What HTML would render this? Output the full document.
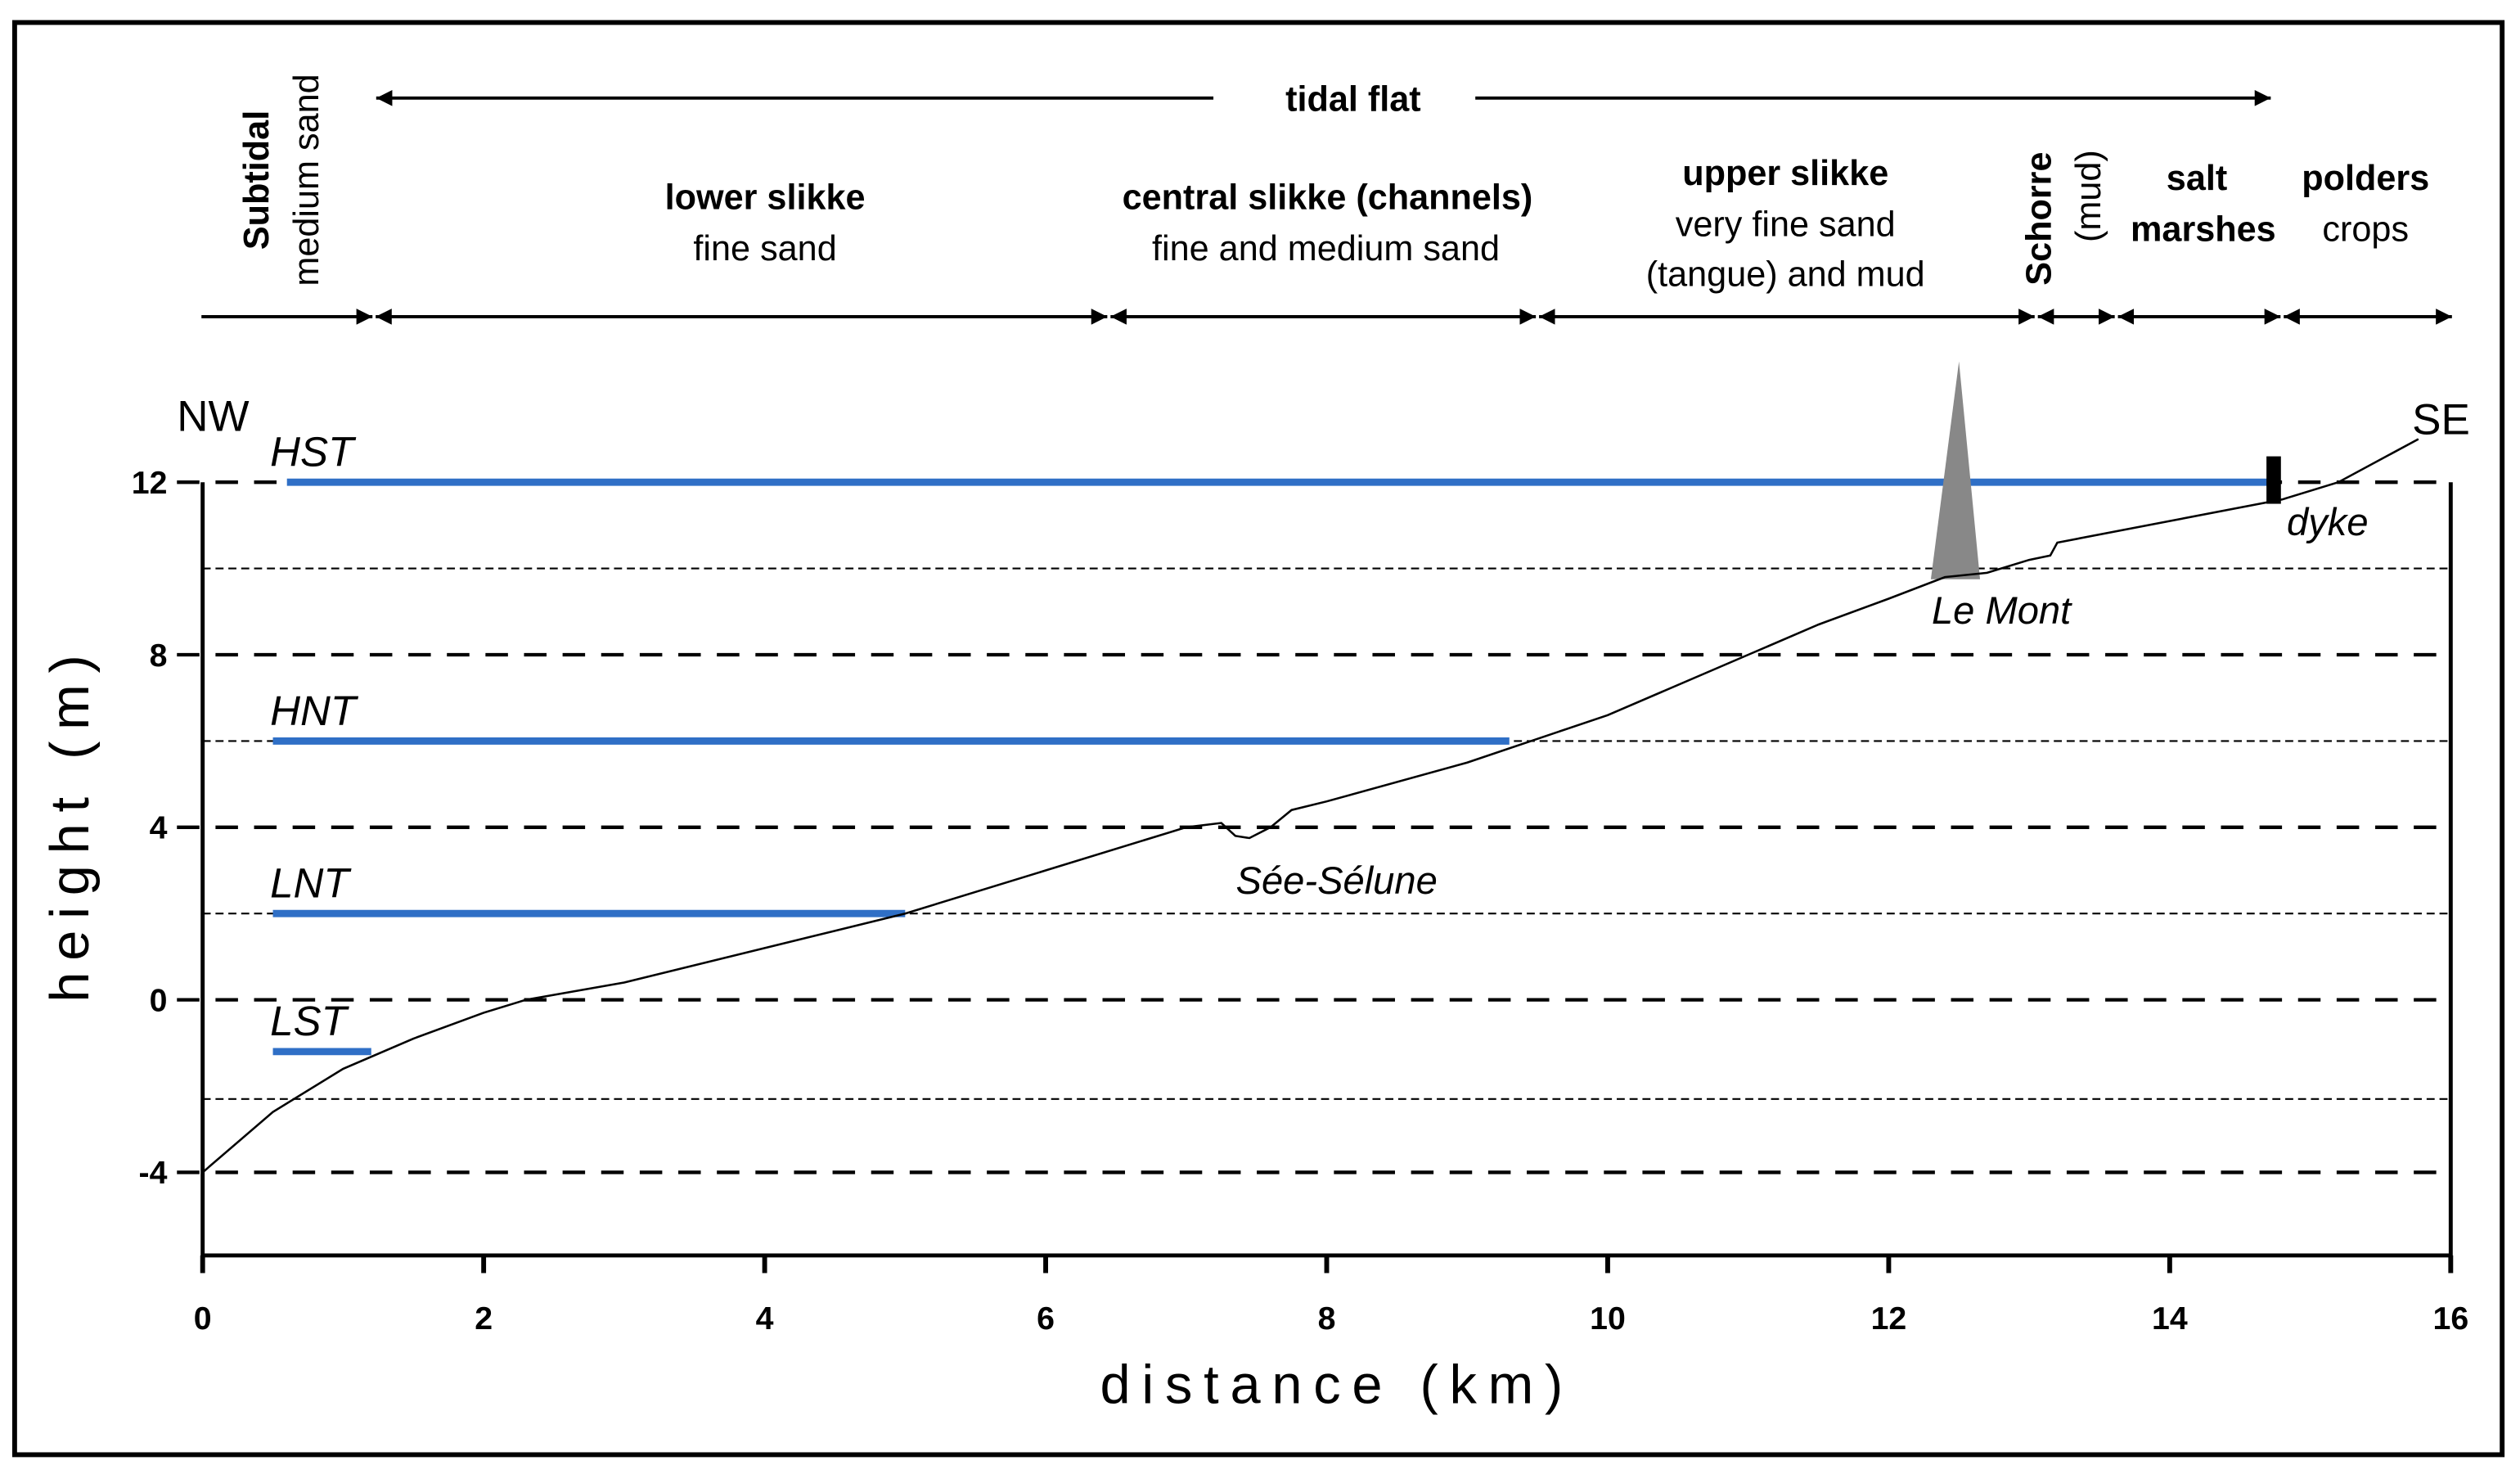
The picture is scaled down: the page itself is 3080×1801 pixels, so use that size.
<!DOCTYPE html>
<html><head><meta charset="utf-8"><style>
html,body{margin:0;padding:0;background:#fff;}
svg{display:block;}
text{font-family:"Liberation Sans",sans-serif;}
</style></head>
<body>
<svg id="chart" width="3080" height="1801" viewBox="0 0 1568 917" xmlns="http://www.w3.org/2000/svg">
<defs>
<marker id="ah" viewBox="0 0 10 10" refX="10" refY="5" markerWidth="5" markerHeight="5" orient="auto-start-reverse"><path d="M0,0 L10,5 L0,10 Z" fill="#000"/></marker>
</defs>
<rect x="9" y="14" width="1548" height="891" fill="none" stroke="#000" stroke-width="3"/>
<g id="zones"></g>
<g id="grid"></g>
<g id="axes"></g>
<g id="marks"></g>
<text transform="translate(55,512) rotate(-90)" text-anchor="middle" font-size="34" letter-spacing="7">height (m)</text>
<text x="832" y="873" text-anchor="middle" font-size="34" letter-spacing="7">distance (km)</text>
<text x="110" y="268" font-size="27">NW</text>
<text x="1501" y="270" font-size="27">SE</text>
<text x="1423" y="333" font-size="24" font-style="italic">dyke</text>
<text x="1202" y="388" font-size="24" font-style="italic">Le Mont</text>
<text x="769" y="556" font-size="24" font-style="italic">Sée-Sélune</text>
</svg>
<script>
const xTicks=[0,2,4,6,8,10,12,14,16];
const yTicks=[-4,0,4,8,12];
const minorLevels=[-2.3,2,6,10];
const tideNames=["HST","HNT","LNT","LST"];
const tideLevels=[12,6,2,-1.2];
const tideStart=[0.6,0.5,0.5,0.5];
const tideEnd=[14.75,9.3,5.0,1.2];
const profileX=[0,0.5,1,1.5,2,2.3,3,4,5,6,7,7.25,7.35,7.45,7.6,7.75,8,9,10,11,11.5,12,12.4,12.7,13,13.15,13.2,14,14.8,15.2,15.77];
const profileY=[-4,-2.6,-1.6,-0.9,-0.3,0,0.4,1.2,2,3,4,4.1,3.8,3.75,4.0,4.4,4.6,5.5,6.6,8,8.7,9.3,9.8,9.9,10.2,10.3,10.6,11.1,11.6,12,13.0];
const montX=[12.3,12.5,12.65];
const montY=[9.75,14.8,9.75];
const dykeX=14.7;
const dykeY=[11.5,12.6];
const zoneBounds=[-0.02,1.22,6.45,9.5,13.05,13.62,14.8,16.02];
const NS="http://www.w3.org/2000/svg";
const X=v=>126+v*(1525-126)/16;
const Y=v=>622-v*(622-300)/12;
function mk(tag,parent,attrs){const e=document.createElementNS(NS,tag);for(const k in attrs)e.setAttribute(k,attrs[k]);document.getElementById(parent).appendChild(e);return e;}
yTicks.forEach(t=>{
 const l=mk('line','grid',{x1:110,x2:1525,y1:Y(t),y2:Y(t),stroke:'#000','stroke-width':2.2,'stroke-dasharray':'14 10'});
 
 
 const tx=mk('text','axes',{x:104,y:Y(t)+7,'text-anchor':'end','font-size':20,'font-weight':'bold'});tx.textContent=t;
 
 
});
minorLevels.forEach(t=>{
 const l=mk('line','grid',{x1:126,x2:1525,y1:Y(t),y2:Y(t),stroke:'#000','stroke-width':1.1,'stroke-dasharray':'5 3'});
 
 
});
let a=mk('polyline','axes',{points:`126,${Y(12)} 126,781 1525,781 1525,${Y(12)}`,fill:'none',stroke:'#000','stroke-width':2.5});


xTicks.forEach(t=>{
 const l=mk('line','axes',{x1:X(t),x2:X(t),y1:781,y2:792,stroke:'#000','stroke-width':3});
 
 
 const tx=mk('text','axes',{x:X(t),y:827,'text-anchor':'middle','font-size':20,'font-weight':'bold'});tx.textContent=t;
 
 
});
tideNames.forEach((n,i)=>{
 const l=mk('line','marks',{x1:X(tideStart[i]),x2:X(tideEnd[i]),y1:Y(tideLevels[i]),y2:Y(tideLevels[i]),stroke:'#2f6fc6','stroke-width':4.5});
 
 
 const tx=mk('text','marks',{x:168,y:Y(tideLevels[i])-10,'font-size':26,'font-style':'italic'});tx.textContent=n;
 
 
});
let m=mk('polygon','marks',{points:montX.map((v,i)=>X(v)+','+Y(montY[i])).join(' '),fill:'#888'});


let p=mk('polyline','marks',{points:profileX.map((v,i)=>X(v)+','+Y(profileY[i])).join(' '),fill:'none',stroke:'#000','stroke-width':1.3});


let d=mk('rect','marks',{x:X(dykeX)-1,y:Y(dykeY[1]),width:9,height:Y(dykeY[0])-Y(dykeY[1]),fill:'#000'});


for(let i=0;i<zoneBounds.length-1;i++){
 const l=mk('line','zones',{x1:X(zoneBounds[i])+1,x2:X(zoneBounds[i+1])-1,y1:197,y2:197,stroke:'#000','stroke-width':2,'marker-end':'url(#ah)','marker-start':i>0?'url(#ah)':''});
 
 
}
let t1=mk('line','zones',{x1:234,x2:755,y1:61,y2:61,stroke:'#000','stroke-width':2,'marker-start':'url(#ah)'});


let t2=mk('line','zones',{x1:918,x2:1413,y1:61,y2:61,stroke:'#000','stroke-width':2,'marker-end':'url(#ah)'});


const labels=[
 ['tidal flat',842,69,true,'tidal-flat-label'],
 ['lower slikke',476,130,true,'lower-slikke-label'],['fine sand',476,162,false,'fine-sand-label'],
 ['central slikke (channels)',826,130,true,'central-slikke-label'],['fine and medium sand',825,162,false,'medium-sand-label'],
 ['upper slikke',1111,115,true,'upper-slikke-label'],['very fine sand',1111,147,false,'very-fine-sand-label'],['(tangue) and mud',1111,178,false,'tangue-mud-label'],
 ['salt',1367,118,true,'salt-label'],['marshes',1371,150,true,'marshes-label'],
 ['polders',1472,118,true,'polders-label'],['crops',1472,150,false,'crops-label']];
labels.forEach(l=>{
 const tx=mk('text','zones',{x:l[1],y:l[2],'text-anchor':'middle','font-size':22,'font-weight':l[3]?'bold':'normal'});tx.textContent=l[0];
 
 
});
const rot=[['Subtidal',167,112,true,'subtidal-label'],['medium sand',198,112,false,'medium-sand-rotated-label'],['Schorre',1276,136,true,'schorre-label'],['(mud)',1307,122,false,'mud-label']];
rot.forEach(l=>{
 const tx=mk('text','zones',{transform:`translate(${l[1]},${l[2]}) rotate(-90)`,'text-anchor':'middle','font-size':22,'font-weight':l[3]?'bold':'normal'});tx.textContent=l[0];
 
 
});
</script>
</body></html>
